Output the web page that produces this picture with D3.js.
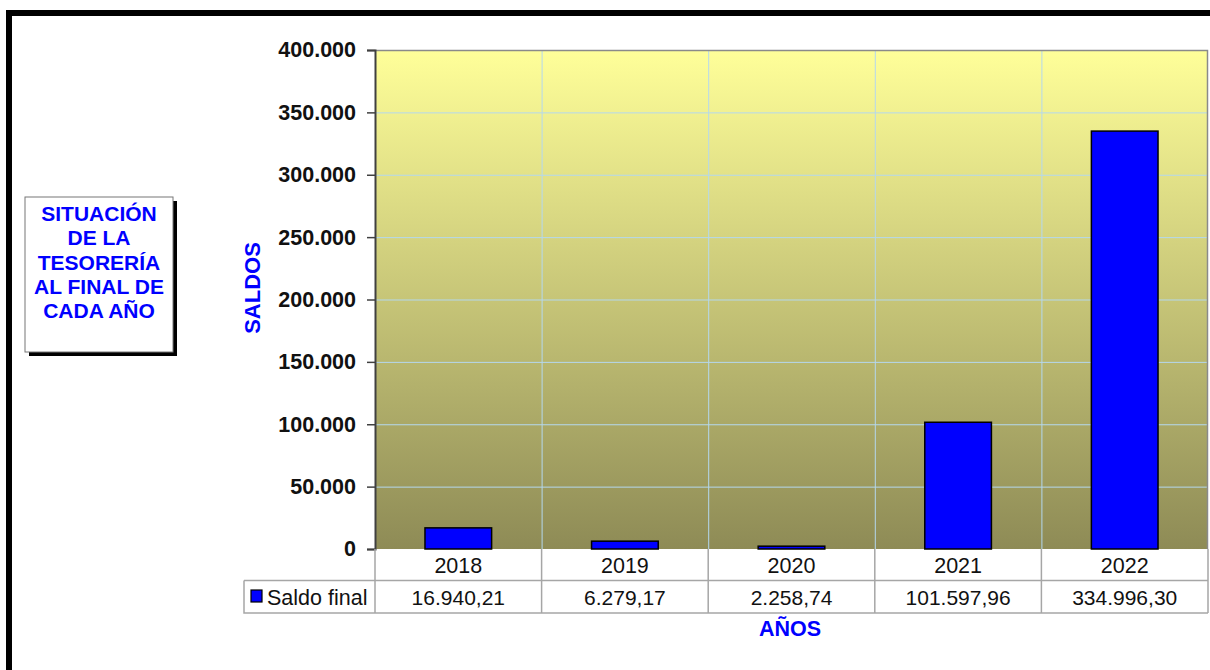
<!DOCTYPE html>
<html>
<head>
<meta charset="utf-8">
<script src="https://cdn.jsdelivr.net/npm/d3@7"></script>
<style>
  html, body { margin: 0; padding: 0; background: #fff; }
  svg { display: block; font-family: "Liberation Sans", Arial, sans-serif; }
</style>
</head>
<body>
<div id="chart"></div>
<script>
// Data
const years = ['2018', '2019', '2020', '2021', '2022'];
const saldoFinal = [16940.21, 6279.17, 2258.74, 101597.96, 334996.30];
const yTicks = [0, 50000, 100000, 150000, 200000, 250000, 300000, 350000, 400000];
const titleLines = ['SITUACIÓN', 'DE LA', 'TESORERÍA', 'AL FINAL DE', 'CADA AÑO'];
const seriesName = 'Saldo final';

const W = 1210, H = 670;
const plot = { left: 375, right: 1208, top: 50, bottom: 549 };
const rowH = 31.5;

const es = d3.formatLocale({ decimal: ',', thousands: '.', grouping: [3], currency: ['', ' €'] });
const fmtTick = es.format(',.0f');
const fmtVal = es.format(',.2f');

const svg = d3.select('#chart').append('svg')
  .attr('width', W).attr('height', H);

// outer frame
svg.append('rect')
  .attr('x', 9).attr('y', 13)
  .attr('width', W + 20).attr('height', H + 20)
  .attr('fill', 'none').attr('stroke', '#000').attr('stroke-width', 6);

const defs = svg.append('defs');
const grad = defs.append('linearGradient')
  .attr('id', 'bg').attr('x1', 0).attr('y1', 0).attr('x2', 0).attr('y2', 1);
grad.append('stop').attr('offset', '0%').attr('stop-color', '#ffff99');
grad.append('stop').attr('offset', '100%').attr('stop-color', '#8e8b56');

const x = d3.scaleBand().domain(years).range([plot.left, plot.right]).padding(0);
const y = d3.scaleLinear().domain([0, 400000]).range([plot.bottom, plot.top]);

// plot background
svg.append('rect')
  .attr('x', plot.left).attr('y', plot.top)
  .attr('width', plot.right - plot.left).attr('height', plot.bottom - plot.top)
  .attr('fill', 'url(#bg)');

// gridlines
svg.append('g').selectAll('line.h')
  .data(yTicks.slice(1, -1))
  .join('line')
  .attr('x1', plot.left).attr('x2', plot.right)
  .attr('y1', d => y(d) + 0.5).attr('y2', d => y(d) + 0.5)
  .attr('stroke', '#b4d8ee').attr('stroke-width', 1);

svg.append('g').selectAll('line.v')
  .data(years.slice(1))
  .join('line')
  .attr('x1', d => x(d) + 0.5).attr('x2', d => x(d) + 0.5)
  .attr('y1', plot.top).attr('y2', plot.bottom)
  .attr('stroke', '#b4d8ee').attr('stroke-width', 1);

// plot border (top/right)
svg.append('path')
  .attr('d', `M${plot.left},${plot.top + 0.5}H${plot.right - 0.5}V${plot.bottom}`)
  .attr('fill', 'none').attr('stroke', '#8a8a8a').attr('stroke-width', 1.5);

// bars
const barW = x.bandwidth() * 0.4;
svg.append('g').selectAll('rect')
  .data(saldoFinal)
  .join('rect')
  .attr('x', (d, i) => x(years[i]) + (x.bandwidth() - barW) / 2)
  .attr('y', d => y(d))
  .attr('width', barW)
  .attr('height', d => y(0) - y(d))
  .attr('fill', '#0000ff')
  .attr('stroke', '#000').attr('stroke-width', 1.5);

// y axis
const yAxis = svg.append('g')
  .attr('transform', `translate(${plot.left},0)`)
  .call(d3.axisLeft(y).tickValues(yTicks).tickFormat(fmtTick).tickSize(8).tickPadding(11));
yAxis.select('.domain').attr('stroke', '#404040').attr('stroke-width', 2);
yAxis.selectAll('.tick line').attr('stroke', '#404040').attr('stroke-width', 1.5);
yAxis.selectAll('.tick text')
  .attr('font-size', 21.5).attr('font-weight', 'bold').attr('fill', '#111')
  .attr('font-family', '"Liberation Sans", Arial, sans-serif');

// data table
const table = svg.append('g');
const tStroke = '#a6a6a6';
const row1 = plot.bottom, row2 = plot.bottom + rowH, row3 = plot.bottom + 2 * rowH + 1;
const legendLeft = 244;

table.append('path')
  .attr('d', [
    `M${plot.left},${row1}V${row3}`,
    `M${legendLeft},${row2}H${plot.right}`,
    `M${legendLeft},${row2}V${row3}H${plot.right}`,
    `M${plot.right},${row1}V${row3}`
  ].join(''))
  .attr('fill', 'none').attr('stroke', tStroke).attr('stroke-width', 1.5);

table.selectAll('line.col')
  .data(years.slice(1))
  .join('line')
  .attr('x1', d => x(d)).attr('x2', d => x(d))
  .attr('y1', row1).attr('y2', row3)
  .attr('stroke', tStroke).attr('stroke-width', 1.5);

table.selectAll('text.year')
  .data(years)
  .join('text')
  .attr('x', d => x(d) + x.bandwidth() / 2)
  .attr('y', (row1 + row2) / 2 + 8)
  .attr('text-anchor', 'middle')
  .attr('font-size', 21.5).attr('fill', '#111')
  .text(d => d);

table.selectAll('text.val')
  .data(saldoFinal)
  .join('text')
  .attr('x', (d, i) => x(years[i]) + x.bandwidth() / 2)
  .attr('y', (row2 + row3) / 2 + 8)
  .attr('text-anchor', 'middle')
  .attr('font-size', 21).attr('fill', '#111')
  .text(d => fmtVal(d));

table.append('rect')
  .attr('x', 251).attr('y', 590).attr('width', 11).attr('height', 12)
  .attr('fill', '#0000ff').attr('stroke', '#000').attr('stroke-width', 1.2);
table.append('text')
  .attr('x', 267).attr('y', (row2 + row3) / 2 + 8)
  .attr('font-size', 21.5).attr('fill', '#111')
  .text(seriesName);

// axis titles
svg.append('text')
  .attr('transform', `translate(260,288) rotate(-90)`)
  .attr('text-anchor', 'middle')
  .attr('font-size', 22).attr('font-weight', 'bold').attr('fill', '#0000ff')
  .text('SALDOS');

svg.append('text')
  .attr('x', 790).attr('y', 636)
  .attr('text-anchor', 'middle')
  .attr('font-size', 21.5).attr('font-weight', 'bold').attr('fill', '#0000ff')
  .text('AÑOS');

// title box
const box = svg.append('g');
box.append('rect')
  .attr('x', 29).attr('y', 201).attr('width', 148).attr('height', 155)
  .attr('fill', '#000');
box.append('rect')
  .attr('x', 25).attr('y', 197).attr('width', 148).attr('height', 155)
  .attr('fill', '#fff').attr('stroke', '#777').attr('stroke-width', 1);
box.selectAll('text')
  .data(titleLines)
  .join('text')
  .attr('x', 99)
  .attr('y', (d, i) => 221 + i * 24.3)
  .attr('text-anchor', 'middle')
  .attr('font-size', 21).attr('font-weight', 'bold').attr('fill', '#0000ff')
  .text(d => d);
</script>
</body>
</html>
